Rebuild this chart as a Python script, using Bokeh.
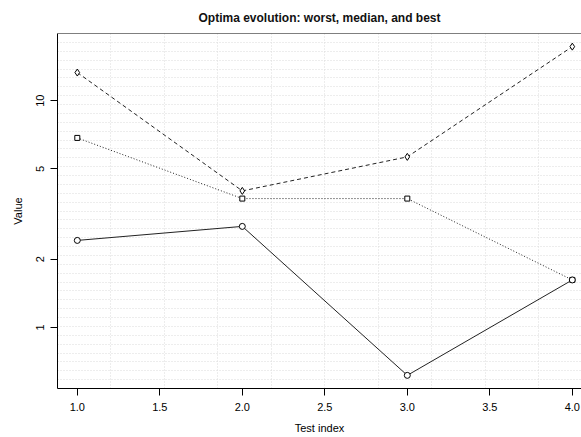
import math

from bokeh.embed import file_html
from bokeh.models import FixedTicker, Span, CustomJSTickFormatter
from bokeh.plotting import figure
from bokeh.resources import INLINE

# Optima per test: worst, median and best values
test_index = [1, 2, 3, 4]
worst = [13.3, 4.0, 5.65, 17.3]
median = [6.85, 3.7, 3.7, 1.62]
best = [2.42, 2.79, 0.615, 1.62]

x_ticks = [1.0, 1.5, 2.0, 2.5, 3.0, 3.5, 4.0]
y_ticks = [1, 2, 5, 10]

FONT = "Liberation Sans"

# Axis limits with 4% padding (log space for y)
all_y = worst + median + best
ly0, ly1 = math.log10(min(all_y)), math.log10(max(all_y))
lpad = 0.04 * (ly1 - ly0)
y_lo, y_hi = 10 ** (ly0 - lpad), 10 ** (ly1 + lpad)
x_pad = 0.04 * (max(test_index) - min(test_index))
x_lo = min(test_index) - x_pad
x_hi = x_lo + (581 - 57) / 165.0

p = figure(
    width=581, height=437,
    x_range=(x_lo, x_hi), y_range=(y_lo, y_hi),
    y_axis_type="log",
    output_backend="svg", toolbar_location=None,
    min_border_left=57, min_border_right=0,
    min_border_top=33, min_border_bottom=49,
    background_fill_color="white", border_fill_color="white",
)
p.outline_line_color = None

# Title
p.title.text = "Optima evolution: worst, median, and best"
p.title.align = "center"
p.title.offset = -28
p.title.standoff = 17
p.title.text_font = FONT
p.title.text_font_size = "12px"
p.title.text_font_style = "bold"
p.title.text_color = "#111111"

# Evenly spaced dotted grid across the plotting region
nx, ny = 10, 40
p.xgrid.ticker = FixedTicker(ticks=[x_lo + k * (2 * x_pad + 3) / nx for k in range(1, nx)])
lg0, lg1 = math.log10(y_lo), math.log10(y_hi)
p.ygrid.ticker = FixedTicker(ticks=[10 ** (lg0 + k * (lg1 - lg0) / ny) for k in range(1, ny)])
for g in (p.xgrid, p.ygrid):
    g.grid_line_color = "#dadada"
    g.grid_line_dash = "1 2"
    g.grid_line_width = 1

# Axes
p.xaxis.ticker = FixedTicker(ticks=x_ticks)
p.xaxis.formatter = CustomJSTickFormatter(code="return tick.toFixed(1);")
p.yaxis.ticker = FixedTicker(ticks=y_ticks)
p.yaxis.formatter = CustomJSTickFormatter(code="return tick.toString();")
p.yaxis.major_label_orientation = "vertical"
p.xaxis.axis_label = "Test index"
p.yaxis.axis_label = "Value"
for ax in (p.xaxis, p.yaxis):
    ax.axis_line_color = "black"
    ax.axis_line_width = 1
    ax.major_tick_line_color = "black"
    ax.major_tick_out = 7
    ax.major_tick_in = 0
    ax.minor_tick_line_color = None
    ax.major_label_text_font = FONT
    ax.major_label_text_font_size = "11px"
    ax.major_label_text_color = "black"
    ax.axis_label_text_font = FONT
    ax.axis_label_text_font_size = "11px"
    ax.axis_label_text_font_style = "normal"
    ax.axis_label_text_color = "black"
p.xaxis.major_label_standoff = 7
p.xaxis.axis_label_standoff = 8
p.yaxis.major_label_standoff = 6
p.yaxis.axis_label_standoff = 10

# Top edge of the box
p.add_layout(Span(location=y_hi, dimension="width", line_color="black", line_width=1))

# Series
line_kw = dict(line_color="#222222", line_width=1)
p.line(test_index, worst, line_dash="4 3", **line_kw)
p.scatter(test_index, worst, marker="diamond", size=7, fill_color="white",
          line_color="black", line_width=1)
p.line(test_index, median, line_dash="1 2", **line_kw)
p.scatter(test_index, median, marker="square", size=5, fill_color="white",
          line_color="black", line_width=1)
p.line(test_index, best, **line_kw)
p.scatter(test_index, best, marker="circle", size=6, fill_color="white",
          line_color="black", line_width=1)

open("out.html", "w").write(file_html(p, INLINE))
